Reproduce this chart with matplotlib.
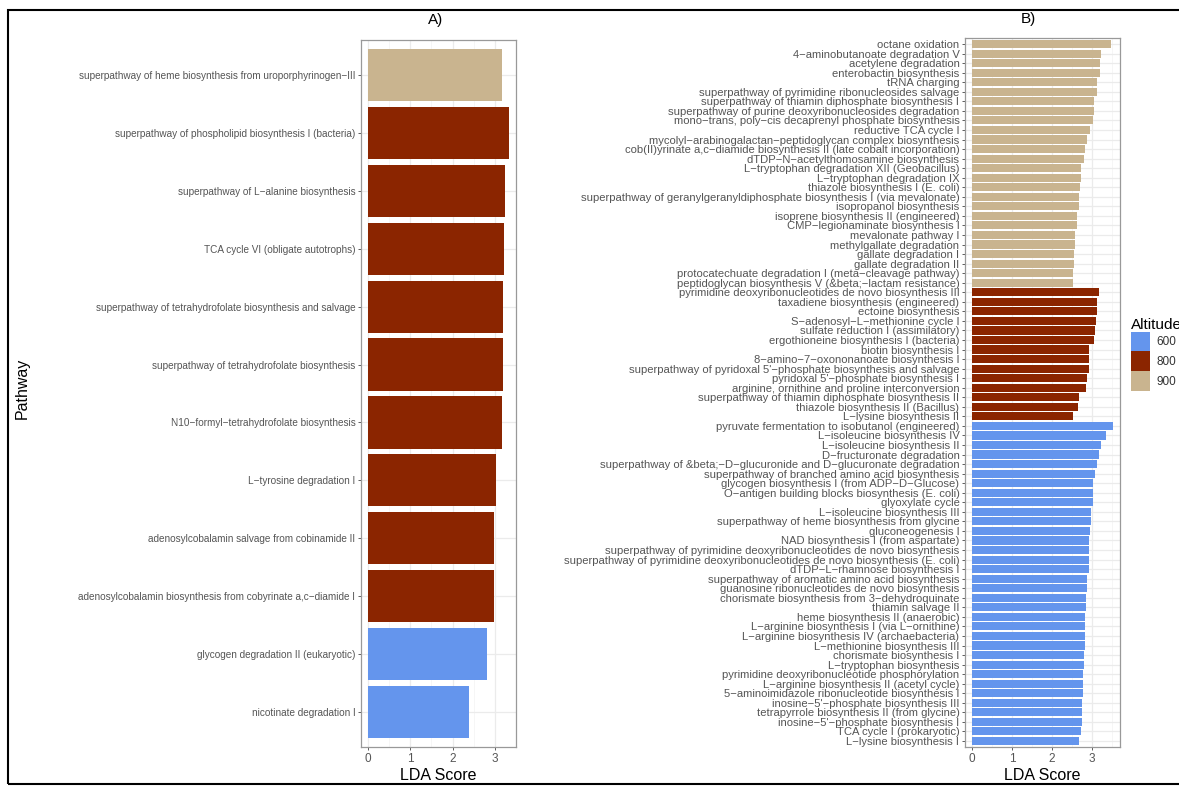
import matplotlib.pyplot as plt
from matplotlib.patches import Patch, Rectangle

plt.rcParams['font.family'] = ['Liberation Sans', 'DejaVu Sans']

# colours for the three altitudes (ggplot-ish)
alt_colours = {600: '#6495ED', 800: '#8B2500', 900: '#C9B48F'}

# ---- panel A ----
pathways_a = [
    'superpathway of heme biosynthesis from uroporphyrinogen-III',
    'superpathway of phospholipid biosynthesis I (bacteria)',
    'superpathway of L-alanine biosynthesis',
    'TCA cycle VI (obligate autotrophs)',
    'superpathway of tetrahydrofolate biosynthesis and salvage',
    'superpathway of tetrahydrofolate biosynthesis',
    'N10-formyl-tetrahydrofolate biosynthesis',
    'L-tyrosine degradation I',
    'adenosylcobalamin salvage from cobinamide II',
    'adenosylcobalamin biosynthesis from cobyrinate a,c-diamide I',
    'glycogen degradation II (eukaryotic)',
    'nicotinate degradation I',
]
altitude_a = [900, 800, 800, 800, 800, 800, 800, 800, 800, 800, 600, 600]
lda_a = [3.18, 3.33, 3.23, 3.21, 3.20, 3.19, 3.18, 3.02, 2.98, 2.97, 2.81, 2.38]

# ---- panel B ----
pathways_b_900 = [
    'octane oxidation',
    '4-aminobutanoate degradation V',
    'acetylene degradation',
    'enterobactin biosynthesis',
    'tRNA charging',
    'superpathway of pyrimidine ribonucleosides salvage',
    'superpathway of thiamin diphosphate biosynthesis I',
    'superpathway of purine deoxyribonucleosides degradation',
    'mono-trans, poly-cis decaprenyl phosphate biosynthesis',
    'reductive TCA cycle I',
    'mycolyl-arabinogalactan-peptidoglycan complex biosynthesis',
    'cob(II)yrinate a,c-diamide biosynthesis II (late cobalt incorporation)',
    'dTDP-N-acetylthomosamine biosynthesis',
    'L-tryptophan degradation XII (Geobacillus)',
    'L-tryptophan degradation IX',
    'thiazole biosynthesis I (E. coli)',
    'superpathway of geranylgeranyldiphosphate biosynthesis I (via mevalonate)',
    'isopropanol biosynthesis',
    'isoprene biosynthesis II (engineered)',
    'CMP-legionaminate biosynthesis I',
    'mevalonate pathway I',
    'methylgallate degradation',
    'gallate degradation I',
    'gallate degradation II',
    'protocatechuate degradation I (meta-cleavage pathway)',
    'peptidoglycan biosynthesis V (&beta;-lactam resistance)',
]
lda_b_900 = [3.48, 3.22, 3.19, 3.19, 3.13, 3.12, 3.05, 3.05, 3.02, 2.94,
             2.87, 2.83, 2.80, 2.73, 2.72, 2.70, 2.68, 2.67, 2.63, 2.62,
             2.58, 2.57, 2.55, 2.55, 2.53, 2.52]

pathways_b_800 = [
    'pyrimidine deoxyribonucleotides de novo biosynthesis III',
    'taxadiene biosynthesis (engineered)',
    'ectoine biosynthesis',
    'S-adenosyl-L-methionine cycle I',
    'sulfate reduction I (assimilatory)',
    'ergothioneine biosynthesis I (bacteria)',
    'biotin biosynthesis I',
    '8-amino-7-oxononanoate biosynthesis I',
    "superpathway of pyridoxal 5'-phosphate biosynthesis and salvage",
    "pyridoxal 5'-phosphate biosynthesis I",
    'arginine, ornithine and proline interconversion',
    'superpathway of thiamin diphosphate biosynthesis II',
    'thiazole biosynthesis II (Bacillus)',
    'L-lysine biosynthesis II',
]
lda_b_800 = [3.17, 3.13, 3.12, 3.10, 3.07, 3.05, 2.93, 2.93, 2.91, 2.88,
             2.84, 2.68, 2.64, 2.53]

pathways_b_600 = [
    'pyruvate fermentation to isobutanol (engineered)',
    'L-isoleucine biosynthesis IV',
    'L-isoleucine biosynthesis II',
    'D-fructuronate degradation',
    'superpathway of &beta;-D-glucuronide and D-glucuronate degradation',
    'superpathway of branched amino acid biosynthesis',
    'glycogen biosynthesis I (from ADP-D-Glucose)',
    'O-antigen building blocks biosynthesis (E. coli)',
    'glyoxylate cycle',
    'L-isoleucine biosynthesis III',
    'superpathway of heme biosynthesis from glycine',
    'gluconeogenesis I',
    'NAD biosynthesis I (from aspartate)',
    'superpathway of pyrimidine deoxyribonucleotides de novo biosynthesis',
    'superpathway of pyrimidine deoxyribonucleotides de novo biosynthesis (E. coli)',
    'dTDP-L-rhamnose biosynthesis I',
    'superpathway of aromatic amino acid biosynthesis',
    'guanosine ribonucleotides de novo biosynthesis',
    'chorismate biosynthesis from 3-dehydroquinate',
    'thiamin salvage II',
    'heme biosynthesis II (anaerobic)',
    'L-arginine biosynthesis I (via L-ornithine)',
    'L-arginine biosynthesis IV (archaebacteria)',
    'L-methionine biosynthesis III',
    'chorismate biosynthesis I',
    'L-tryptophan biosynthesis',
    'pyrimidine deoxyribonucleotide phosphorylation',
    'L-arginine biosynthesis II (acetyl cycle)',
    '5-aminoimidazole ribonucleotide biosynthesis I',
    "inosine-5'-phosphate biosynthesis III",
    'tetrapyrrole biosynthesis II (from glycine)',
    "inosine-5'-phosphate biosynthesis I",
    'TCA cycle I (prokaryotic)',
    'L-lysine biosynthesis I',
]
lda_b_600 = [3.52, 3.34, 3.23, 3.17, 3.12, 3.07, 3.03, 3.02, 3.01, 2.98,
             2.98, 2.94, 2.93, 2.93, 2.92, 2.91, 2.88, 2.86, 2.85, 2.84,
             2.83, 2.83, 2.82, 2.81, 2.80, 2.79, 2.78, 2.77, 2.76, 2.75,
             2.74, 2.74, 2.73, 2.67]

pathways_b = pathways_b_900 + pathways_b_800 + pathways_b_600
lda_b = lda_b_900 + lda_b_800 + lda_b_600
altitude_b = [900]*len(pathways_b_900) + [800]*len(pathways_b_800) + [600]*len(pathways_b_600)


def draw_panel(ax, names, scores, alts, bar_h, label_size, title, title_x, title_pad):
    n = len(names)
    ypos = list(range(n))
    cols = [alt_colours[a] for a in alts]
    ax.barh(ypos, scores, height=bar_h, color=cols, zorder=3)
    top = max(scores)
    ax.set_xlim(-0.05*top, 1.05*top)
    ax.set_ylim(n - 1 + 0.6, -0.6)
    ax.set_xticks([0, 1, 2, 3])
    ax.set_xticks([0.5, 1.5, 2.5, 3.5], minor=True)
    ax.set_yticks(ypos)
    # R draws the hyphens as minus signs
    ax.set_yticklabels([s.replace('-', '\u2212') for s in names], fontsize=label_size)
    ax.grid(which='major', color='#EBEBEB', lw=0.9, zorder=0)
    ax.grid(which='minor', axis='x', color='#F3F3F3', lw=0.5, zorder=0)
    ax.tick_params(axis='both', which='major', length=2.5, width=0.6,
                   color='#444444', labelcolor='#555555', pad=1.5)
    ax.tick_params(axis='x', labelsize=8.5, pad=2)
    ax.tick_params(which='minor', length=0)
    for sp in ax.spines.values():
        sp.set_color('#999999')
        sp.set_linewidth(0.9)
    ax.set_xlabel('LDA Score', fontsize=11.5, labelpad=2)
    ax.set_title(title, fontsize=11, pad=title_pad, x=title_x)


fig = plt.figure(figsize=(11.79, 7.87), dpi=100)
W, H = 1179, 787

ax_a = fig.add_axes([361/W, 40.3/H, 155/W, 706.4/H])
draw_panel(ax_a, pathways_a, lda_a, altitude_a, 0.9, 7.2, 'A)', 0.48, 12)
fig.text(22/W, 1 - 388/H, 'Pathway', rotation=90, fontsize=11.5,
         ha='center', va='center')

ax_b = fig.add_axes([965/W, 40.3/H, 155/W, 708.4/H])
draw_panel(ax_b, pathways_b, lda_b, altitude_b, 0.85, 8.1, 'B)', 0.41, 11)

handles = [Patch(facecolor=alt_colours[a], edgecolor='none') for a in (600, 800, 900)]
fig.legend(handles, ['600', '800', '900'], title='Altitude', loc='upper left',
           bbox_to_anchor=(1126/W, 1 - 313/H), frameon=False, fontsize=8.5,
           title_fontsize=11, handlelength=1.65, handleheight=2.2,
           labelspacing=0.0, handletextpad=0.5, alignment='left',
           labelcolor='#333333', borderaxespad=0)

# black frame round the whole figure (right side is cut off in the original)
fig.patches.append(Rectangle((8/W, 3/H), 1.2, (787-10-3)/H, transform=fig.transFigure,
                             fill=False, edgecolor='black', lw=1.5))

fig.savefig('out.png', dpi=100)
